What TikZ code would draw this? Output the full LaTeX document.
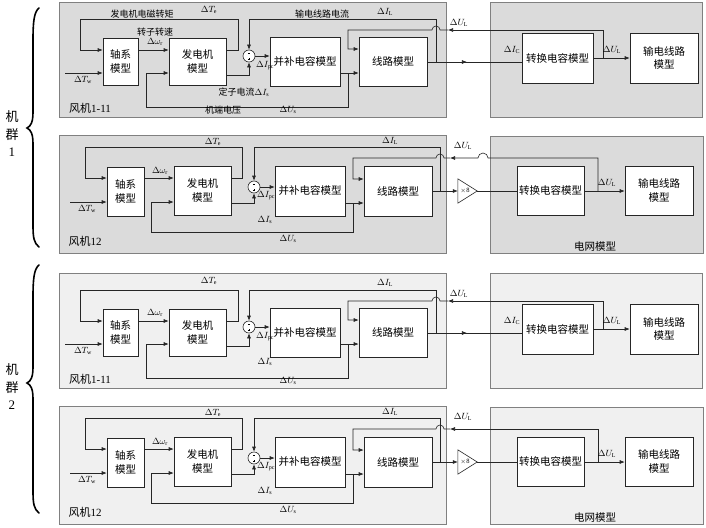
\documentclass[tikz,border=0pt]{standalone}
\usepackage{fontspec}
\setmainfont{Liberation Serif}
\newfontfamily\cjk{Noto Sans CJK SC}
\usetikzlibrary{arrows.meta,decorations.markings}
\newcommand\zh[1]{{\cjk #1}}
\tikzset{
  blk/.style={draw=black!85, fill=white, line width=0.6pt, align=center, inner sep=0pt, font=\fontsize{10.5}{13.5}\selectfont},
  wire/.style={draw=black!85, line width=0.6pt},
  conn/.style={wire, -{Latex[length=5pt,width=4pt]}},
  lbl/.style={inner sep=0pt, font=\fontsize{9}{10}\selectfont},
  plbl/.style={inner sep=0pt, font=\fontsize{11}{13}\selectfont},
  dark/.style={draw=black!50, fill=black!14, line width=0.9pt},
  light/.style={draw=black!50, fill=black!6, line width=0.9pt},
  sumc/.style={circle, draw=black!85, fill=white, line width=0.6pt, minimum size=12pt, inner sep=0pt},
  midarrow/.style={postaction={decorate}, decoration={markings, mark=at position #1 with {\arrow{Latex[length=5pt,width=4pt]}}}},
}
\newcommand\sumsigns[1]{%
  \draw[line width=0.3pt] ([shift={(-1.2pt,3.2pt)}]#1.center) -- ++(2.4pt,0pt);
  \draw[line width=0.3pt] ([shift={(-1.2pt,-3.2pt)}]#1.center) -- ++(2.4pt,0pt);
  \draw[line width=0.3pt] ([shift={(0pt,-2pt)}]#1.center) -- ++(0pt,-2.4pt);
}
% ---------- row type A (wind farm 1-11) ----------
\newcommand\rowA[2]{%
  \draw[#2] (59,2) rectangle (446,117);
  \draw[#2] (490,2) rectangle (702,117);
  \node[blk, minimum width=35pt, minimum height=47pt] (#1sh) at (120.5,61.5) {\zh{轴系}\\\zh{模型}};
  \node[blk, minimum width=57pt, minimum height=47pt] (#1gen) at (197.5,61.5) {\zh{发电机}\\\zh{模型}};
  \node[sumc] (#1sum) at (249,56) {};
  \sumsigns{#1sum}
  \node[blk, minimum width=70pt, minimum height=49pt] (#1pc) at (305,61.5) {\zh{并补电容模型}};
  \node[blk, minimum width=68pt, minimum height=49pt] (#1ln) at (393,61.5) {\zh{线路模型}};
  \node[blk, minimum width=71pt, minimum height=50pt] (#1cv) at (557.5,58) {\zh{转换电容模型}};
  \node[blk, minimum width=68pt, minimum height=50pt] (#1tl) at (664,58) {\zh{输电线路}\\\zh{模型}};
  \coordinate (#1tw) at (65,73);
  \coordinate (#1bi) at (436,62);
  \coordinate (#1bu) at (348,73);
  \coordinate (#1bv) at (603,58);
  \draw[conn] (#1gen.east |- 0,50) -- (238,50) |- (80,19) |- (#1sh.west |- 0,50);
  \draw[conn] (#1tw) -- (#1sh.west |- #1tw);
  \draw[conn] (#1sh.east |- 0,50) -- (#1gen.west |- 0,50);
  \draw[conn] (#1gen.east |- 0,75) -| (#1sum.south);
  \draw[conn] (#1bi) -- (#1bi |- 0,19) -| (#1sum.north);
  \draw[conn] (#1sum.east) -- (#1pc.west |- #1sum.east);
  \draw[conn] (#1pc.east |- #1bu) -- (#1ln.west |- #1bu);
  \draw[conn] (#1bu) -- (#1bu |- 0,107) -| (146,73) -- (#1gen.west |- 0,73);
  \draw[wire, midarrow=0.42] (#1ln.east |- #1bi) -- (#1cv.west |- #1bi);
  \draw[conn] (#1cv.east |- #1bv) -- (#1tl.west |- #1bv);
  \draw[conn] (#1bv) -- (#1bv |- 0,30) -- (448,30);
  \draw[conn] (448,30) -- (440,30) arc[start angle=0,end angle=180,radius=4pt] -- (348,30) |- (#1ln.west |- 0,49);
  \node[lbl] (#1lte) at (209,10) {$\Delta T_{\mathrm{e}}$};
  \node[lbl] (#1lw) at (155,42) {$\Delta\omega_{\mathrm{r}}$};
  \node[lbl] (#1ltw) at (83,80) {$\Delta T_{\mathrm{w}}$};
  \node[lbl] (#1lpc) at (265,66) {$\Delta I_{\mathrm{pc}}$};
  \node[lbl] (#1lus) at (288,110) {$\Delta U_{\mathrm{s}}$};
  \node[lbl] (#1lil) at (385,12) {$\Delta I_{\mathrm{L}}$};
  \node[lbl] (#1lul) at (459,23) {$\Delta U_{\mathrm{L}}$};
  \node[lbl] (#1lic) at (512,50) {$\Delta I_{\mathrm{C}}$};
  \node[lbl] (#1lul2) at (612,50) {$\Delta U_{\mathrm{L}}$};
  \node[plbl] (#1name) at (90,108) {\zh{风机}1-11};
}
% ---------- row type B (wind farm 12) ----------
\newcommand\rowB[3]{%
  \draw[#2] (59,135) rectangle (446,253);
  \draw[#2] (490,136) rectangle (703,253);
  \node[blk, minimum width=37pt, minimum height=49pt] (#1sh) at (125.5,191.5) {\zh{轴系}\\\zh{模型}};
  \node[blk, minimum width=57pt, minimum height=49pt] (#1gen) at (202.5,190.5) {\zh{发电机}\\\zh{模型}};
  \node[sumc] (#1sum) at (254,187) {};
  \sumsigns{#1sum}
  \node[blk, minimum width=70pt, minimum height=50pt] (#1pc) at (310,191) {\zh{并补电容模型}};
  \node[blk, minimum width=68pt, minimum height=50pt] (#1ln) at (398,191) {\zh{线路模型}};
  \node[minimum width=19pt, minimum height=24pt, inner sep=0pt] (#1amp) at (467.5,191) {};
  \draw[wire, fill=white] (#1amp.north west) -- (#1amp.east) -- (#1amp.south west) -- cycle;
  \node[inner sep=0pt, font=\fontsize{6.5}{7}\selectfont] (#1x) at ([xshift=-2.5pt]#1amp.center) {$\times$8};
  \node[blk, minimum width=67pt, minimum height=49pt] (#1cv) at (550.5,190.5) {\zh{转换电容模型}};
  \node[blk, minimum width=68pt, minimum height=49pt] (#1tl) at (659,190.5) {\zh{输电线路}\\\zh{模型}};
  \coordinate (#1tw) at (70,202);
  \coordinate (#1bi) at (440,191);
  \coordinate (#1bu) at (353,203);
  \coordinate (#1bv) at (598,191);
  \draw[conn] (#1gen.east |- 0,178) -- (242,178) |- (85,147) |- (#1sh.west |- 0,178);
  \draw[conn] (#1tw) -- (#1sh.west |- #1tw);
  \draw[conn] (#1sh.east |- 0,178) -- (#1gen.west |- 0,178);
  \draw[conn] (#1gen.east |- 0,203) -| (#1sum.south);
  \draw[conn] (#1bi) -- (#1bi |- 0,147) -| (#1sum.north);
  \draw[conn] (#1sum.east) -- (#1pc.west |- #1sum.east);
  \draw[conn] (#1pc.east |- #1bu) -- (#1ln.west |- #1bu);
  \draw[conn] (#1bu) -- (#1bu |- 0,232) -| (151,202) -- (#1gen.west |- 0,202);
  \draw[conn] (#1ln.east |- #1bi) -- (#1amp.west);
  \draw[wire] (#1amp.east) -- (#1cv.west |- #1amp.east);
  \draw[conn] (#1cv.east |- #1bv) -- (#1tl.west |- #1bv);
  \draw[conn] (#1bv) -- (#1bv |- 0,158) -- #3 (450,158);
  \draw[conn] (450,158) -- (444,158) arc[start angle=0,end angle=180,radius=4pt] -- (353,158) |- (#1ln.west |- 0,179);
  \node[lbl] (#1lte) at (213,142) {$\Delta T_{\mathrm{e}}$};
  \node[lbl] (#1lw) at (160,171) {$\Delta\omega_{\mathrm{r}}$};
  \node[lbl] (#1ltw) at (87,209) {$\Delta T_{\mathrm{w}}$};
  \node[lbl] (#1lpc) at (266,196) {$\Delta I_{\mathrm{pc}}$};
  \node[lbl] (#1lis) at (265,220) {$\Delta I_{\mathrm{s}}$};
  \node[lbl] (#1lus) at (288,239) {$\Delta U_{\mathrm{s}}$};
  \node[lbl] (#1lil) at (390,141) {$\Delta I_{\mathrm{L}}$};
  \node[lbl] (#1lul) at (463,146) {$\Delta U_{\mathrm{L}}$};
  \node[lbl] (#1lul2) at (607,183) {$\Delta U_{\mathrm{L}}$};
  \node[plbl] (#1name) at (85,241) {\zh{风机}12};
  \node[inner sep=0pt, font=\fontsize{10.5}{12}\selectfont] (#1grid) at (595,247) {\zh{电网模型}};
}
\begin{document}
\begin{tikzpicture}[x=1pt,y=-1pt]
\path[use as bounding box, fill=white] (0,0) rectangle (706,527);
% row 1
\rowA{ra}{dark}
\node[lbl] (ra-t1) at (142,14) {\zh{发电机电磁转矩}};
\node[lbl] (ra-t2) at (155,32) {\zh{转子转速}};
\node[lbl] (ra-t3) at (322,14) {\zh{输电线路电流}};
\node[lbl] (ra-t4) at (244,92) {\zh{定子电流}$\Delta I_{\mathrm{s}}$};
\node[lbl] (ra-t5) at (223,110) {\zh{机端电压}};
% row 2
\rowB{rb}{dark}{(488,158) arc[start angle=0,end angle=180,radius=5pt] --}
% row 3
\begin{scope}[shift={(0,271)}]
\rowA{rc}{light}
\node[lbl] (rc-is) at (265,91) {$\Delta I_{\mathrm{s}}$};
\end{scope}
% row 4
\begin{scope}[shift={(0,271)}]
\rowB{rd}{light}{}
\end{scope}
% braces
\draw[line width=1.6pt, line cap=round] (39,8) .. controls (34,12) and (33,22) .. (33,40) -- (33,112) .. controls (33,122) and (31,126) .. (27,128) .. controls (31,130) and (33,134) .. (33,144) -- (33,225) .. controls (33,238) and (34,243) .. (39,247);
\draw[line width=1.6pt, line cap=round] (39,265) .. controls (34,269) and (33,279) .. (33,297) -- (33,367) .. controls (33,377) and (31,381) .. (27,383) .. controls (31,385) and (33,389) .. (33,399) -- (33,491) .. controls (33,504) and (34,509) .. (39,513);
\node[plbl, font=\fontsize{13}{15}\selectfont] (g1a) at (12,117) {\zh{机}};
\node[plbl, font=\fontsize{13}{15}\selectfont] (g1b) at (12,135) {\zh{群}};
\node[plbl, font=\fontsize{13}{15}\selectfont] (g1c) at (12,152) {1};
\node[plbl, font=\fontsize{13}{15}\selectfont] (g2a) at (12,370) {\zh{机}};
\node[plbl, font=\fontsize{13}{15}\selectfont] (g2b) at (12,388) {\zh{群}};
\node[plbl, font=\fontsize{13}{15}\selectfont] (g2c) at (12,405) {2};
\end{tikzpicture}
\end{document}
